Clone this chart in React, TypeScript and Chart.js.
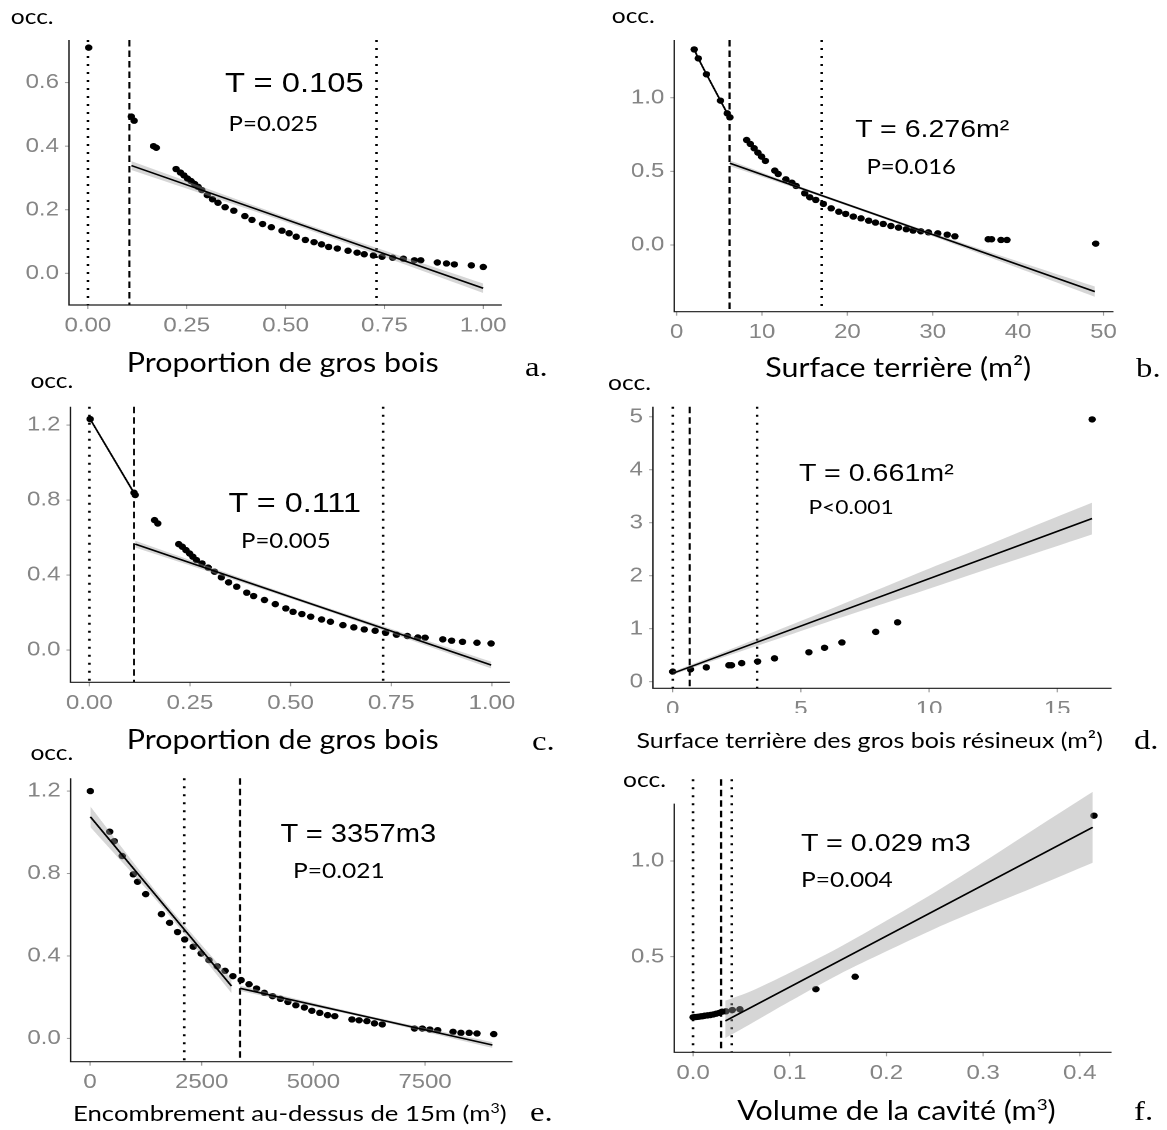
import React, { useEffect, useRef } from "react";
import { Chart, registerables } from "chart.js";

Chart.register(...registerables);

const SX = 1.17;
const BAND = "rgba(153,153,153,0.4)";
const TICK_FONT = '20.5px "Liberation Sans", Arial, sans-serif';

// ---------- Panel a ----------
const aX = [0.002, 0.110, 0.117, 0.166, 0.173, 0.223, 0.234, 0.243, 0.252, 0.261, 0.270, 0.279, 0.288, 0.302, 0.315, 0.329, 0.347, 0.369, 0.397, 0.415, 0.442, 0.464, 0.491, 0.509, 0.527, 0.550, 0.572, 0.591, 0.609, 0.631, 0.658, 0.681, 0.699, 0.722, 0.744, 0.771, 0.798, 0.826, 0.842, 0.884, 0.907, 0.927, 0.970, 1.000];
const aY = [0.710, 0.493, 0.480, 0.400, 0.395, 0.328, 0.317, 0.308, 0.298, 0.290, 0.281, 0.272, 0.262, 0.246, 0.233, 0.222, 0.208, 0.197, 0.180, 0.168, 0.155, 0.145, 0.134, 0.126, 0.115, 0.105, 0.098, 0.091, 0.083, 0.078, 0.071, 0.065, 0.060, 0.056, 0.052, 0.049, 0.046, 0.041, 0.041, 0.034, 0.031, 0.028, 0.025, 0.020];
const aFitX = [0.11, 1.0];
const aFitY = [0.339, -0.047];
const aBandX = [0.11, 0.55, 1.0];
const aBandLo = [0.325, 0.140, -0.062];
const aBandHi = [0.353, 0.156, -0.032];
const aDotted = [0, 0.73];
const aDashed = [0.105];
const aXTicks = [0, 0.25, 0.5, 0.75, 1];
const aYTicks = [0, 0.2, 0.4, 0.6];

// ---------- Panel b ----------
const bX = [2.06, 2.54, 3.5, 5.14, 5.93, 6.24, 8.2, 8.64, 9.08, 9.52, 9.96, 10.4, 11.5, 11.9, 12.8, 13.5, 14.0, 15.0, 15.6, 16.3, 17.2, 18.1, 19.0, 19.8, 20.7, 21.6, 22.5, 23.3, 24.2, 25.1, 26.0, 26.9, 27.7, 28.6, 29.5, 30.6, 31.7, 32.6, 36.5, 36.9, 38.0, 38.7, 49.1];
const bY = [1.328, 1.267, 1.159, 0.98, 0.894, 0.867, 0.713, 0.686, 0.657, 0.627, 0.600, 0.571, 0.505, 0.482, 0.446, 0.423, 0.401, 0.351, 0.324, 0.306, 0.279, 0.249, 0.226, 0.211, 0.193, 0.181, 0.165, 0.152, 0.143, 0.129, 0.118, 0.107, 0.098, 0.093, 0.086, 0.079, 0.070, 0.059, 0.039, 0.039, 0.034, 0.034, 0.009];
const bSegX = [2.06, 2.54, 3.5, 5.14, 5.93, 6.24];
const bSegY = [1.328, 1.267, 1.159, 0.98, 0.894, 0.867];
const bFitX = [6.24, 49.0];
const bFitY = [0.555, -0.317];
const bBandX = [6.24, 15, 27, 38, 49];
const bBandLo = [0.535, 0.366, 0.122, -0.113, -0.352];
const bBandHi = [0.575, 0.386, 0.142, -0.073, -0.282];
const bDotted = [17.0];
const bDashed = [6.2];
const bXTicks = [0, 10, 20, 30, 40, 50];
const bYTicks = [0, 0.5, 1.0];

// ---------- Panel c ----------
const cX = [0.002, 0.111, 0.114, 0.162, 0.170, 0.222, 0.231, 0.240, 0.249, 0.257, 0.266, 0.280, 0.295, 0.311, 0.328, 0.346, 0.366, 0.391, 0.408, 0.435, 0.462, 0.488, 0.506, 0.528, 0.550, 0.577, 0.599, 0.630, 0.657, 0.683, 0.710, 0.736, 0.763, 0.790, 0.816, 0.834, 0.878, 0.900, 0.927, 0.963, 0.998];
const cY = [1.232, 0.839, 0.827, 0.693, 0.675, 0.565, 0.551, 0.533, 0.515, 0.498, 0.480, 0.462, 0.440, 0.418, 0.388, 0.361, 0.338, 0.306, 0.288, 0.267, 0.245, 0.222, 0.204, 0.192, 0.178, 0.163, 0.151, 0.133, 0.121, 0.110, 0.103, 0.092, 0.082, 0.075, 0.067, 0.066, 0.057, 0.050, 0.044, 0.039, 0.035];
const cSegX = [0.002, 0.114];
const cSegY = [1.232, 0.827];
const cFitX = [0.114, 0.998];
const cFitY = [0.565, -0.080];
const cBandX = [0.114, 0.55, 0.998];
const cBandLo = [0.547, 0.238, -0.098];
const cBandHi = [0.583, 0.256, -0.062];
const cDotted = [0, 0.73];
const cDashed = [0.111];
const cXTicks = [0, 0.25, 0.5, 0.75, 1];
const cYTicks = [0, 0.4, 0.8, 1.2];

// ---------- Panel d ----------
const dX = [0, 0.69, 1.31, 2.19, 2.29, 2.69, 3.31, 3.97, 5.31, 5.92, 6.60, 7.92, 8.77, 16.36];
const dY = [0.19, 0.233, 0.27, 0.31, 0.31, 0.35, 0.38, 0.44, 0.555, 0.64, 0.74, 0.94, 1.12, 4.95];
const dFitX = [0, 16.36];
const dFitY = [0.158, 3.08];
const dBandX = [0, 2, 4, 6, 8, 10, 12, 14, 16.36];
const dBandLo = [0.128, 0.465, 0.792, 1.12, 1.437, 1.754, 2.08, 2.40, 2.78];
const dBandHi = [0.188, 0.565, 0.952, 1.34, 1.737, 2.134, 2.52, 2.92, 3.38];
const dDotted = [0, 3.29];
const dDashed = [0.66];
const dXTicks = [0, 5, 10, 15];
const dYTicks = [0, 1, 2, 3, 4, 5];

// ---------- Panel e ----------
const eX = [8, 440, 544, 720, 968, 1064, 1248, 1599, 1783, 1959, 2119, 2311, 2487, 2663, 2847, 3023, 3199, 3383, 3559, 3727, 3903, 4087, 4263, 4431, 4607, 4799, 4967, 5143, 5319, 5479, 5863, 6023, 6199, 6367, 6543, 7263, 7439, 7607, 7783, 8127, 8303, 8487, 8663, 9039];
const eY = [1.20, 1.003, 0.957, 0.885, 0.796, 0.760, 0.700, 0.603, 0.561, 0.516, 0.480, 0.445, 0.412, 0.380, 0.350, 0.328, 0.302, 0.283, 0.263, 0.242, 0.221, 0.205, 0.192, 0.177, 0.161, 0.150, 0.134, 0.124, 0.113, 0.108, 0.092, 0.088, 0.084, 0.073, 0.068, 0.048, 0.048, 0.043, 0.040, 0.032, 0.027, 0.027, 0.024, 0.021];
const eFit1X = [8, 3167];
const eFit1Y = [1.075, 0.254];
const eBand1X = [8, 1600, 3167];
const eBand1Lo = [1.025, 0.641, 0.22];
const eBand1Hi = [1.125, 0.681, 0.288];
const eFit2X = [3359, 9007];
const eFit2Y = [0.243, -0.032];
const eBand2X = [3359, 6200, 9007];
const eBand2Lo = [0.23, 0.098, -0.046];
const eBand2Hi = [0.256, 0.112, -0.018];
const eDotted = [2111];
const eDashed = [3359];
const eXTicks = [0, 2500, 5000, 7500];
const eYTicks = [0, 0.4, 0.8, 1.2];

// ---------- Panel f ----------
const fX = [0.000, 0.002, 0.004, 0.006, 0.008, 0.010, 0.012, 0.015, 0.018, 0.021, 0.024, 0.027, 0.030, 0.034, 0.0406, 0.0484, 0.127, 0.1676, 0.4147];
const fY = [0.183, 0.184, 0.185, 0.186, 0.188, 0.189, 0.191, 0.193, 0.195, 0.198, 0.202, 0.206, 0.2125, 0.214, 0.221, 0.225, 0.33, 0.395, 1.237];
const fFitX = [0.0334, 0.4133];
const fFitY = [0.164, 1.176];
const fBandX = [0.0334, 0.06, 0.1, 0.15, 0.2, 0.25, 0.3, 0.35, 0.4133];
const fBandLo = [0.075, 0.150, 0.266, 0.405, 0.528, 0.646, 0.754, 0.857, 0.991];
const fBandHi = [0.270, 0.320, 0.416, 0.545, 0.688, 0.836, 0.994, 1.157, 1.361];
const fDotted = [0, 0.04];
const fDashed = [0.029];
const fXTicks = [0, 0.1, 0.2, 0.3, 0.4];
const fYTicks = [0.5, 1.0];

type Series = { x: number[]; y: number[] };
type BandT = { x: number[]; lo: number[]; hi: number[] };
type Panel = {
  rect: [number, number, number, number];
  xRange: [number, number];
  yRange: [number, number];
  xTicks: number[];
  yTicks: number[];
  xDec: number;
  yDec: number;
  pts: Series;
  lines: Series[];
  bands: BandT[];
  dotted: number[];
  dashed: number[];
  yAxisTop?: number;
};

const panels: Panel[] = [
  {
    rect: [68.9, 40, 501.8, 305],
    xRange: [-0.048, 1.047], yRange: [-0.0997, 0.734],
    xTicks: aXTicks, yTicks: aYTicks, xDec: 2, yDec: 1,
    pts: { x: aX, y: aY },
    lines: [{ x: aFitX, y: aFitY }],
    bands: [{ x: aBandX, lo: aBandLo, hi: aBandHi }],
    dotted: aDotted, dashed: aDashed,
  },
  {
    rect: [674.3, 40, 1113.5, 311.7],
    xRange: [-0.27, 51.18], yRange: [-0.453, 1.392],
    xTicks: bXTicks, yTicks: bYTicks, xDec: 0, yDec: 1,
    pts: { x: bX, y: bY },
    lines: [{ x: bFitX, y: bFitY }, { x: bSegX, y: bSegY }],
    bands: [{ x: bBandX, lo: bBandLo, hi: bBandHi }],
    dotted: bDotted, dashed: bDashed,
  },
  {
    rect: [70.4, 406.7, 510, 682.3],
    xRange: [-0.047, 1.045], yRange: [-0.172, 1.298],
    xTicks: cXTicks, yTicks: cYTicks, xDec: 2, yDec: 1,
    pts: { x: cX, y: cY },
    lines: [{ x: cFitX, y: cFitY }, { x: cSegX, y: cSegY }],
    bands: [{ x: cBandX, lo: cBandLo, hi: cBandHi }],
    dotted: cDotted, dashed: cDashed,
  },
  {
    rect: [653, 406.7, 1111.6, 688.3],
    xRange: [-0.77, 17.12], yRange: [-0.125, 5.19],
    xTicks: dXTicks, yTicks: dYTicks, xDec: 0, yDec: 0,
    pts: { x: dX, y: dY },
    lines: [{ x: dFitX, y: dFitY }],
    bands: [{ x: dBandX, lo: dBandLo, hi: dBandHi }],
    dotted: dDotted, dashed: dDashed,
  },
  {
    rect: [70.7, 778.3, 512.5, 1061.7],
    xRange: [-432, 9458], yRange: [-0.113, 1.262],
    xTicks: eXTicks, yTicks: eYTicks, xDec: 0, yDec: 1,
    pts: { x: eX, y: eY },
    lines: [{ x: eFit1X, y: eFit1Y }, { x: eFit2X, y: eFit2Y }],
    bands: [{ x: eBand1X, lo: eBand1Lo, hi: eBand1Hi }, { x: eBand2X, lo: eBand2Lo, hi: eBand2Hi }],
    dotted: eDotted, dashed: eDashed,
  },
  {
    rect: [674.3, 779.3, 1111.6, 1052.3],
    xRange: [-0.0194, 0.4329], yRange: [0, 1.427],
    xTicks: fXTicks, yTicks: fYTicks, xDec: 1, yDec: 1,
    pts: { x: fX, y: fY },
    lines: [{ x: fFitX, y: fFitY }],
    bands: [{ x: fBandX, lo: fBandLo, hi: fBandHi }],
    dotted: fDotted, dashed: fDashed,
    yAxisTop: 1.30,
  },
];

function PanelChart({ p }: { p: Panel }) {
  const ref = useRef<HTMLCanvasElement | null>(null);
  const [L, T, R, B] = p.rect;
  const l = L / SX;
  const r = R / SX;
  const boxLeft = Math.floor(l - 62);
  const boxTop = Math.floor(T - 22);
  const boxRight = Math.ceil(r + 28);
  const boxBottom = Math.ceil(B + 45);
  const W = boxRight - boxLeft;
  const H = boxBottom - boxTop;
  const padL = l - boxLeft;
  const padT = T - boxTop;
  const padR = boxRight - r;
  const padB = boxBottom - B;

  useEffect(() => {
    const canvas = ref.current;
    if (!canvas) return;
    const toPts = (xs: number[], ys: number[]) => xs.map((x, i) => ({ x, y: ys[i] }));
    const datasets: any[] = [];
    p.lines.forEach((s) =>
      datasets.push({ data: toPts(s.x, s.y), borderColor: "#000", borderWidth: 1.6, pointRadius: 0, fill: false, tension: 0 })
    );
    p.bands.forEach((b) => {
      datasets.push({ data: toPts(b.x, b.hi), borderColor: "rgba(0,0,0,0)", borderWidth: 0, pointRadius: 0, fill: "+1", backgroundColor: BAND, tension: 0.3 });
      datasets.push({ data: toPts(b.x, b.lo), borderColor: "rgba(0,0,0,0)", borderWidth: 0, pointRadius: 0, fill: false, tension: 0.3 });
    });
    datasets.push({
      data: toPts(p.pts.x, p.pts.y),
      showLine: false,
      pointRadius: 3.2,
      pointBackgroundColor: "#000",
      pointBorderColor: "#000",
      pointBorderWidth: 0,
    });

    const decor = {
      id: "decor",
      beforeDatasetsDraw(chart: any) {
        const { ctx, chartArea: a, scales } = chart;
        const x = scales.x;
        ctx.save();
        ctx.strokeStyle = "#000";
        const vline = (v: number, dash: number[], w: number) => {
          const px = x.getPixelForValue(v);
          ctx.lineWidth = w;
          ctx.setLineDash(dash);
          ctx.beginPath();
          ctx.moveTo(px, a.top);
          ctx.lineTo(px, a.bottom);
          ctx.stroke();
        };
        p.dotted.forEach((v) => vline(v, [2, 6], 2.2));
        p.dashed.forEach((v) => vline(v, [6.5, 4], 1.8));
        ctx.restore();
      },
      afterDraw(chart: any) {
        const { ctx, chartArea: a, scales } = chart;
        const x = scales.x;
        const y = scales.y;
        ctx.save();
        ctx.setLineDash([]);
        ctx.strokeStyle = "#9a9a9a";
        ctx.lineWidth = 1;
        p.xTicks.forEach((v) => {
          const px = x.getPixelForValue(v);
          ctx.beginPath();
          ctx.moveTo(px, a.bottom);
          ctx.lineTo(px, a.bottom + 4);
          ctx.stroke();
        });
        p.yTicks.forEach((v) => {
          const py = y.getPixelForValue(v);
          ctx.beginPath();
          ctx.moveTo(a.left, py);
          ctx.lineTo(a.left - 4 / SX, py);
          ctx.stroke();
        });
        ctx.strokeStyle = "#1a1a1a";
        ctx.lineWidth = 1.2;
        const yTop = p.yAxisTop !== undefined ? y.getPixelForValue(p.yAxisTop) : a.top;
        ctx.beginPath();
        ctx.moveTo(a.left, yTop);
        ctx.lineTo(a.left, a.bottom);
        ctx.lineTo(a.right, a.bottom);
        ctx.stroke();
        ctx.font = TICK_FONT;
        ctx.fillStyle = "#858585";
        ctx.textAlign = "center";
        ctx.textBaseline = "alphabetic";
        p.xTicks.forEach((v) => {
          ctx.fillText(v.toFixed(p.xDec), x.getPixelForValue(v), a.bottom + 26.5);
        });
        ctx.textAlign = "right";
        ctx.textBaseline = "middle";
        p.yTicks.forEach((v) => {
          ctx.fillText(v.toFixed(p.yDec), a.left - 10 / SX, y.getPixelForValue(v));
        });
        ctx.restore();
      },
    };

    const chart = new Chart(canvas, {
      type: "line",
      data: { datasets },
      options: {
        animation: false,
        responsive: true,
        maintainAspectRatio: false,
        devicePixelRatio: 2,
        events: [],
        layout: { padding: { left: 0, top: padT, right: padR, bottom: 0 } },
        plugins: { legend: { display: false }, tooltip: { enabled: false }, title: { display: false } },
        scales: {
          x: {
            type: "linear",
            min: p.xRange[0],
            max: p.xRange[1],
            grid: { display: false },
            border: { display: false },
            ticks: { display: false },
            afterBuildTicks: (s: any) => {
              s.ticks = p.xTicks.map((v) => ({ value: v }));
            },
            afterFit: (s: any) => {
              s.height = padB;
              s.paddingLeft = 0;
              s.paddingRight = 0;
            },
          },
          y: {
            type: "linear",
            min: p.yRange[0],
            max: p.yRange[1],
            grid: { display: false },
            border: { display: false },
            ticks: { display: false },
            afterBuildTicks: (s: any) => {
              s.ticks = p.yTicks.map((v) => ({ value: v }));
            },
            afterFit: (s: any) => {
              s.width = padL;
              s.paddingTop = 0;
              s.paddingBottom = 0;
            },
          },
        },
      } as any,
      plugins: [decor],
    });
    return () => chart.destroy();
  }, []);

  return (
    <div style={{ position: "absolute", left: boxLeft, top: boxTop, width: W, height: H }}>
      <canvas ref={ref} style={{ display: "block" }} />
    </div>
  );
}

const FAM: Record<string, [string, number]> = {
  sans: ['"Liberation Sans", Arial, sans-serif', 0.8465],
  lato: ["Lato, sans-serif", 0.887],
  serif: ['"Liberation Serif", "Times New Roman", serif', 0.8375],
};

function Txt({ x, base, size, fam, children }: { x: number; base: number; size: number; fam: string; children: any }) {
  const [family, k] = FAM[fam];
  return (
    <div
      style={{
        position: "absolute",
        left: x / SX,
        top: base - k * size,
        fontSize: size,
        lineHeight: `${size}px`,
        fontFamily: family,
        color: "#000",
        whiteSpace: "nowrap",
      }}
    >
      {children}
    </div>
  );
}

const Sup = ({ children }: { children: any }) => (
  <span style={{ fontSize: "0.62em", verticalAlign: "0.6em", lineHeight: 0 }}>{children}</span>
);

export default function App() {
  useEffect(() => {
    document.body.style.overflow = "hidden";
  }, []);
  return (
    <div
      style={{
        position: "absolute",
        left: 0,
        top: 0,
        width: 1167 / SX,
        height: 1130,
        transform: `scaleX(${SX})`,
        transformOrigin: "0 0",
        background: "#fff",
        overflow: "hidden",
      }}
    >
      {panels.map((p, i) => (
        <PanelChart key={i} p={p} />
      ))}

      {/* white strip clipping the bottom of panel d tick labels */}
      <div style={{ position: "absolute", left: 653 / SX, top: 713, width: 480 / SX, height: 14, background: "#fff" }} />

      {/* panel a */}
      <Txt x={10.7} base={23.3} size={21} fam="lato">occ.</Txt>
      <Txt x={225} base={92.7} size={28} fam="sans">T = 0.105</Txt>
      <Txt x={228.6} base={130.7} size={20.5} fam="lato">P=0.025</Txt>
      <Txt x={126.8} base={371.7} size={26} fam="lato">Proportion de gros bois</Txt>
      <Txt x={525} base={376} size={28} fam="serif">a.</Txt>

      {/* panel b */}
      <Txt x={611.8} base={22.7} size={21} fam="lato">occ.</Txt>
      <Txt x={855.2} base={137.3} size={24.4} fam="sans">T = 6.276m²</Txt>
      <Txt x={866.4} base={174.3} size={20.5} fam="lato">P=0.016</Txt>
      <Txt x={765.3} base={377} size={26} fam="lato">Surface terrière (m²)</Txt>
      <Txt x={1136} base={377} size={28} fam="serif">b.</Txt>

      {/* panel c */}
      <Txt x={30.4} base={387.3} size={21} fam="lato">occ.</Txt>
      <Txt x={228.6} base={512.7} size={27.7} fam="sans">T = 0.111</Txt>
      <Txt x={241} base={547.7} size={20.5} fam="lato">P=0.005</Txt>
      <Txt x={126.8} base={749} size={26} fam="lato">Proportion de gros bois</Txt>
      <Txt x={532} base={750} size={28} fam="serif">c.</Txt>

      {/* panel d */}
      <Txt x={608} base={389.3} size={21} fam="lato">occ.</Txt>
      <Txt x={799} base={481.7} size={24.5} fam="sans">T = 0.661m²</Txt>
      <Txt x={808.4} base={514.3} size={19.5} fam="lato">P&lt;0.001</Txt>
      <Txt x={636.5} base={749.3} size={21.4} fam="lato">Surface terrière des gros bois résineux (m²)</Txt>
      <Txt x={1134} base={749} size={28} fam="serif">d.</Txt>

      {/* panel e */}
      <Txt x={30.4} base={759.3} size={21} fam="lato">occ.</Txt>
      <Txt x={280.4} base={841.7} size={24.9} fam="sans">T = 3357m3</Txt>
      <Txt x={292.9} base={877.3} size={21} fam="lato">P=0.021</Txt>
      <Txt x={73} base={1121.7} size={22} fam="lato">
        Encombrement au-dessus de 15m (m<Sup>3</Sup>)
      </Txt>
      <Txt x={530} base={1121.7} size={28} fam="serif">e.</Txt>

      {/* panel f */}
      <Txt x={623} base={786.7} size={21} fam="lato">occ.</Txt>
      <Txt x={800.9} base={851.7} size={24.6} fam="sans">T = 0.029 m3</Txt>
      <Txt x={800.9} base={886.7} size={21} fam="lato">P=0.004</Txt>
      <Txt x={737.2} base={1120} size={26} fam="lato">
        Volume de la cavité (m<Sup>3</Sup>)
      </Txt>
      <Txt x={1134} base={1120} size={28} fam="serif">f.</Txt>
    </div>
  );
}
